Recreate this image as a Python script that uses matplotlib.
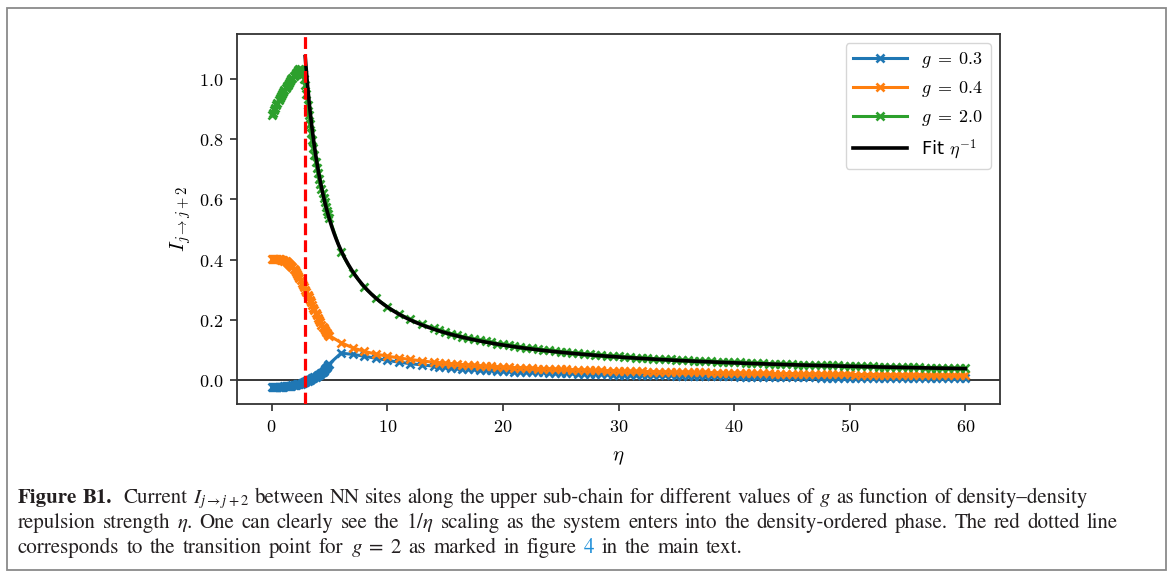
import numpy as np
import matplotlib
matplotlib.use("Agg")
import matplotlib.pyplot as plt
from matplotlib.patches import Rectangle
from matplotlib.ticker import FuncFormatter

plt.rcParams["mathtext.fontset"] = "cm"

# ---------------- data ----------------
eta_dense = np.round(np.arange(0.0, 5.0001, 0.1), 2)                       # 51 points
eta_tail = np.concatenate([np.arange(6.0, 14.5, 1.0), np.arange(14.5, 60.01, 0.5)])  # 101 points

g03_dense = [-0.024, -0.024, -0.024, -0.023, -0.023, -0.023, -0.023, -0.022, -0.022, -0.022,
             -0.022, -0.021, -0.021, -0.021, -0.020, -0.020, -0.019, -0.019, -0.018, -0.018,
             -0.017, -0.016, -0.015, -0.014, -0.013, -0.012, -0.011, -0.010, -0.008, -0.007,
             -0.005, -0.003, -0.001, 0.001, 0.003, 0.005, 0.007, 0.009, 0.011, 0.013,
             0.015, 0.018, 0.021, 0.024, 0.027, 0.031, 0.035, 0.039, 0.044, 0.049,
             0.054]
g04_dense = [0.403, 0.403, 0.403, 0.402, 0.402, 0.402, 0.401, 0.401, 0.400, 0.399,
             0.398, 0.397, 0.395, 0.393, 0.390, 0.387, 0.383, 0.379, 0.375, 0.370,
             0.365, 0.359, 0.352, 0.345, 0.338, 0.331, 0.323, 0.316, 0.308, 0.300,
             0.292, 0.283, 0.275, 0.266, 0.258, 0.249, 0.240, 0.232, 0.223, 0.215,
             0.207, 0.199, 0.191, 0.184, 0.177, 0.171, 0.165, 0.160, 0.155, 0.151,
             0.147]
g20_dense = [0.880, 0.889, 0.897, 0.905, 0.913, 0.921, 0.929, 0.936, 0.943, 0.950,
             0.957, 0.963, 0.970, 0.976, 0.982, 0.988, 0.994, 0.999, 1.005, 1.010,
             1.015, 1.020, 1.025, 1.029, 1.032, 1.034, 1.030, 1.018, 1.000, 0.980,
             0.950, 0.915, 0.882, 0.851, 0.822, 0.796, 0.771, 0.748, 0.726, 0.706,
             0.687, 0.669, 0.652, 0.636, 0.620, 0.605, 0.590, 0.576, 0.563, 0.550,
             0.537]

g03_tail = [0.089, 0.085, 0.079, 0.072, 0.065, 0.059, 0.054, 0.050, 0.046,
            0.044, 0.042, 0.041, 0.039, 0.038, 0.037, 0.035, 0.034, 0.033, 0.032, 0.031,
            0.030, 0.029, 0.028, 0.027, 0.027, 0.026, 0.025, 0.025, 0.024, 0.023,
            0.023, 0.022, 0.022, 0.021, 0.021, 0.020, 0.020, 0.019, 0.019, 0.018,
            0.018, 0.017, 0.017, 0.017, 0.016, 0.016, 0.016, 0.015, 0.015, 0.015,
            0.014, 0.014, 0.014, 0.013, 0.013, 0.013, 0.013, 0.012, 0.012, 0.012,
            0.012, 0.011, 0.011, 0.011, 0.011, 0.010, 0.010, 0.010, 0.010, 0.010,
            0.009, 0.009, 0.009, 0.009, 0.009, 0.008, 0.008, 0.008, 0.008, 0.008,
            0.008, 0.007, 0.007, 0.007, 0.007, 0.007, 0.007, 0.007, 0.006, 0.006,
            0.006, 0.006, 0.006, 0.006, 0.006, 0.006, 0.005, 0.005, 0.005, 0.005, 0.005]
g04_tail = [0.124, 0.107, 0.095, 0.086, 0.079, 0.073, 0.068, 0.063, 0.059,
            0.057, 0.056, 0.054, 0.053, 0.051, 0.050, 0.049, 0.047, 0.046, 0.045, 0.044,
            0.043, 0.042, 0.041, 0.041, 0.040, 0.039, 0.038, 0.038, 0.037, 0.036,
            0.036, 0.035, 0.034, 0.034, 0.033, 0.033, 0.032, 0.032, 0.031, 0.031,
            0.030, 0.030, 0.029, 0.029, 0.029, 0.028, 0.028, 0.027, 0.027, 0.027,
            0.026, 0.026, 0.026, 0.025, 0.025, 0.025, 0.024, 0.024, 0.024, 0.023,
            0.023, 0.023, 0.023, 0.022, 0.022, 0.022, 0.022, 0.021, 0.021, 0.021,
            0.021, 0.020, 0.020, 0.020, 0.020, 0.020, 0.019, 0.019, 0.019, 0.019,
            0.019, 0.018, 0.018, 0.018, 0.018, 0.018, 0.018, 0.017, 0.017, 0.017,
            0.017, 0.017, 0.017, 0.016, 0.016, 0.016, 0.016, 0.016, 0.016, 0.015, 0.015]
g20_tail = [0.425, 0.357, 0.309, 0.272, 0.243, 0.220, 0.201, 0.185, 0.171,
            0.165, 0.159, 0.154, 0.149, 0.144, 0.140, 0.136, 0.132, 0.128, 0.125, 0.121,
            0.118, 0.115, 0.112, 0.110, 0.107, 0.105, 0.102, 0.100, 0.098, 0.096,
            0.094, 0.092, 0.090, 0.089, 0.087, 0.085, 0.084, 0.082, 0.081, 0.080,
            0.078, 0.077, 0.076, 0.074, 0.073, 0.072, 0.071, 0.070, 0.069, 0.068,
            0.067, 0.066, 0.065, 0.064, 0.063, 0.062, 0.062, 0.061, 0.060, 0.059,
            0.058, 0.058, 0.057, 0.056, 0.056, 0.055, 0.054, 0.054, 0.053, 0.052,
            0.052, 0.051, 0.051, 0.050, 0.050, 0.049, 0.049, 0.048, 0.048, 0.047,
            0.047, 0.046, 0.046, 0.045, 0.045, 0.044, 0.044, 0.044, 0.043, 0.043,
            0.042, 0.042, 0.042, 0.041, 0.041, 0.040, 0.040, 0.040, 0.039, 0.039, 0.039]

series_labels = [r"$g \;=\; 0.3$", r"$g \;=\; 0.4$", r"$g \;=\; 2.0$"]
series_colors = ["#1f77b4", "#ff7f0e", "#2ca02c"]

# fit  I = A / (eta - eta0), shown from the transition point on
fit_amp = 2.225
fit_shift = 0.83
eta_transition = 2.86
fit_start = 2.9
fit_end = 60.0

x_ticks = [0, 10, 20, 30, 40, 50, 60]
y_ticks = [0.0, 0.2, 0.4, 0.6, 0.8, 1.0]

caption_1 = (r"Current $I_{j\to j+2}$ between NN sites along the upper sub-chain for "
             r"different values of $g$ as function of density–density")
caption_2 = (r"repulsion strength $\eta$. One can clearly see the $1/\eta$ scaling as the "
             r"system enters into the density-ordered phase. The red dotted line")
caption_3a = r"corresponds to the transition point for $g \;=\; 2$ as marked in figure"
caption_3b = "in the main text."

# ---------------- figure ----------------
W, H = 1174, 578
fig = plt.figure(figsize=(W / 100, H / 100), dpi=100)
ax = fig.add_axes([237 / W, 1 - 404 / H, (1000 - 237) / W, (404 - 34) / H])

eta_all = np.concatenate([eta_dense, eta_tail])
for dense, tail, lab, col in zip([g03_dense, g04_dense, g20_dense],
                                 [g03_tail, g04_tail, g20_tail],
                                 series_labels, series_colors):
    y = np.concatenate([dense, tail])
    ax.plot(eta_all, y, color=col, lw=2.2, marker="x", ms=6, mew=1.9, label=lab, zorder=2)

eta_fit = np.linspace(fit_start, fit_end, 600)
ax.plot(eta_fit, fit_amp / (eta_fit - fit_shift), color="black", lw=2.6,
        label=r"Fit $\eta^{-1}$", zorder=3)

ax.axhline(0.0, color="black", lw=1.1, zorder=1)
ax.axvline(eta_transition, color="red", lw=2.3, ls="--", zorder=4)

ax.set_xlim(-3, 63)
ax.set_ylim(-0.08, 1.15)
ax.set_xticks(x_ticks)
ax.set_yticks(y_ticks)
ax.xaxis.set_major_formatter(FuncFormatter(lambda v, p: r"$%d$" % round(v)))
ax.yaxis.set_major_formatter(FuncFormatter(lambda v, p: r"$%.1f$" % v))
ax.tick_params(axis="both", direction="out", length=5, width=1.25, color="#333333",
               labelsize=13, pad=5)
for sp in ax.spines.values():
    sp.set_color("#333333")
    sp.set_linewidth(1.3)

ax.set_xlabel(r"$\eta$", fontsize=15, labelpad=8)
ax.set_ylabel(r"$I_{j\to j+2}$", fontsize=15, labelpad=4)

leg = ax.legend(loc="upper right", fontsize=13, handlelength=3.0, framealpha=0.8,
                edgecolor="#cccccc", fancybox=True)

# ---------------- outer frame ----------------
fig.patches.append(Rectangle((7 / W, 1 - 570 / H), (1166 - 7) / W, (570 - 8) / H,
                             transform=fig.transFigure, fill=False,
                             edgecolor="#8a8a8a", lw=1.3))

# ---------------- caption (word-by-word, justified) ----------------
renderer = fig.canvas.get_renderer()
cap_kw = dict(family="STIXGeneral", math_fontfamily="stix", fontsize=15, color="#231f20")


def split_words(s, extra=None):
    out, cur, inmath = [], "", False
    for ch in s:
        if ch == "$":
            inmath = not inmath
            cur += ch
        elif ch == " " and not inmath:
            if cur:
                out.append((cur, extra or {}, 1.0))
            cur = ""
        else:
            cur += ch
    if cur:
        out.append((cur, extra or {}, 1.0))
    return out


def caption_line(words, x0, x1, baseline):
    arts = []
    for txt, extra, wgt in words:
        kw = dict(cap_kw)
        kw.update(extra)
        t = fig.text(x0 / W, 1 - baseline / H, txt, ha="left", va="baseline", **kw)
        bb = t.get_window_extent(renderer=renderer)
        arts.append((t, bb.width, wgt))
    total = sum(w for _, w, _ in arts)
    weights = sum(g for _, _, g in arts[:-1])
    gap = (x1 - x0 - total) / weights if weights else 0
    x = x0
    for t, w, g in arts:
        t.set_x(x / W)
        x += w + g * gap


line1 = [("Figure", dict(fontweight="bold"), 1.0), ("B1.", dict(fontweight="bold"), 2.2)]
line1 += split_words(caption_1)
caption_line(line1, 18, 1088, 503)

caption_line(split_words(caption_2), 18, 1118, 528)

line3 = split_words(caption_3a) + [("4", dict(color="#1f8fd8"), 1.0)] + split_words(caption_3b)
caption_line(line3, 18, 743, 553)

fig.savefig("out.png", dpi=100)
